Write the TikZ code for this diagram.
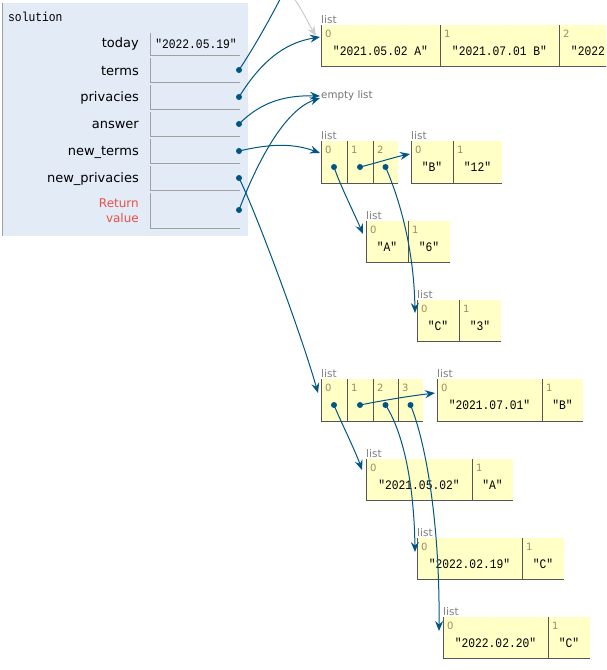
\documentclass[tikz,border=0pt]{standalone}
\usepackage{fontspec}
\setmainfont{DejaVu Sans}
\newfontfamily\monof[FakeStretch=0.87]{Liberation Mono}
\usetikzlibrary{arrows.meta}
\definecolor{framebg}{HTML}{E2EBF6}
\definecolor{heapbg}{HTML}{FFFFC6}
\definecolor{ptrc}{HTML}{005583}
\definecolor{cellln}{HTML}{555555}
\definecolor{varln}{HTML}{A0A0A0}
\definecolor{idxc}{HTML}{9C8A6A}
\definecolor{typec}{HTML}{808080}
\definecolor{retc}{HTML}{E8504A}
\tikzset{
 cellbox/.style={fill=heapbg, draw=none, inner sep=0pt, outer sep=0pt, rectangle},
 cellline/.style={draw=cellln, line width=0.9pt},
 idx/.style={font=\fontsize{10}{10}\selectfont, text=idxc, inner sep=0pt, anchor=west},
 val/.style={font=\monof\fontsize{13}{13}\selectfont, inner sep=0pt},
 typel/.style={font=\fontsize{10.5}{10}\selectfont, text=typec, inner sep=0pt, anchor=south west},
 dotn/.style={circle, fill=ptrc, inner sep=0pt, minimum size=6pt},
 ptrarrow/.style={draw=ptrc, line width=1pt, -{Stealth[length=10pt,width=8pt,inset=3.5pt]}},
 grayarrow/.style={draw=black!20, line width=1pt, -{Stealth[length=10pt,width=8pt,inset=3.5pt]}},
 varlbl/.style={font=\fontsize{13}{13}\selectfont, anchor=east, inner sep=0pt},
 varline/.style={draw=varln, line width=0.9pt},
 varbox/.style={draw=none, inner sep=0pt, outer sep=0pt, minimum width=90pt, anchor=north west},
}
\newcommand\lcell[7]{%
 \node[cellbox, minimum width=#4pt, minimum height=#5pt, anchor=north west] (#1) at (#2,#3) {};
 \draw[cellline] (#1.north west) -- (#1.south west) -- (#1.south east);
 \node[idx] (#1i) at ([xshift=4pt,yshift=-9pt]#1.north west) {#6};
 \node[val] (#1v) at ([yshift=-5pt]#1.center) {#7};
}
\newcommand\pcell[6]{%
 \node[cellbox, minimum width=#4pt, minimum height=#5pt, anchor=north west] (#1) at (#2,#3) {};
 \draw[cellline] (#1.north west) -- (#1.south west) -- (#1.south east);
 \node[idx] (#1i) at ([xshift=4pt,yshift=-9pt]#1.north west) {#6};
 \node[dotn] (#1d) at ([yshift=-5pt]#1.center) {};
}
\newcommand\vrow[5]{% name label ytop height labely
 \node[varbox, minimum height=#4pt] (#1) at (150,#3) {};
 \draw[varline] (#1.north west) -- (#1.south west) -- (#1.south east);
 \node[varlbl] (#1l) at (139,#5) {#2};
}
\begin{document}
\begin{tikzpicture}[x=1pt,y=-1pt]
\path[use as bounding box, clip] (0,0) rectangle (606,670);
\fill[white] (0,0) rectangle (606,670);
% frame
\fill[framebg] (3,3) rectangle (248,236);
\draw[varln, line width=1pt] (2.5,3) -- (2.5,236);
\node[font=\monof\fontsize{13}{13}\selectfont, anchor=west, inner sep=0pt] (fname) at (8,17) {solution};
\vrow{vtoday}{today}{33}{22}{44}
\node[val] (vtodayv) at (196,44) {"2022.05.19"};
\vrow{vterms}{terms}{58}{24}{71}
\vrow{vpriv}{privacies}{85}{24}{98}
\vrow{vans}{answer}{112}{24}{125}
\vrow{vnt}{new\_terms}{139}{24}{152}
\vrow{vnp}{new\_privacies}{166}{24}{179}
\node[varbox, minimum height=35pt] (vret) at (150,193) {};
\draw[varline] (vret.north west) -- (vret.south west) -- (vret.south east);
\node[varlbl, text=retc, align=right, font=\fontsize{12}{15}\selectfont] (vretl) at (139,211) {Return\\value};
\node[dotn] (dterms) at (239,70) {};
\node[dotn] (dpriv) at (239,97) {};
\node[dotn] (dans) at (239,124) {};
\node[dotn] (dnt) at (239,151) {};
\node[dotn] (dnp) at (239,178) {};
\node[dotn] (dret) at (239,210) {};
% list A
\node[typel] (ta) at (321,24) {list};
\lcell{a0}{321}{25}{119}{41}{0}{"2021.05.02 A"}
\lcell{a1}{440}{25}{119}{41}{1}{"2021.07.01 B"}
\lcell{a2}{559}{25}{119}{41}{2}{"2022.02.19 C"}
% empty list
\node[font=\fontsize{10.3}{10}\selectfont, text=black!55, anchor=west, inner sep=0pt] (empty) at (321,96) {empty list};
% list B
\node[typel] (tb) at (321,140) {list};
\pcell{b0}{321}{141}{26}{42}{0}
\pcell{b1}{347}{141}{26}{42}{1}
\pcell{b2}{373}{141}{25}{42}{2}
\node[typel] (tbb) at (411,140) {list};
\lcell{bb0}{411}{141}{42}{42}{0}{"B"}
\lcell{bb1}{453}{141}{49}{42}{1}{"12"}
\node[typel] (tba) at (366,220) {list};
\lcell{ba0}{366}{221}{42}{41}{0}{"A"}
\lcell{ba1}{408}{221}{42}{41}{1}{"6"}
\node[typel] (tbc) at (417,299) {list};
\lcell{bc0}{417}{300}{42}{41}{0}{"C"}
\lcell{bc1}{459}{300}{42}{41}{1}{"3"}
% list C
\node[typel] (tc) at (321,378) {list};
\pcell{c0}{321}{379}{26}{42}{0}
\pcell{c1}{347}{379}{26}{42}{1}
\pcell{c2}{373}{379}{25}{42}{2}
\pcell{c3}{398}{379}{25}{42}{3}
\node[typel] (tcb) at (437,378) {list};
\lcell{cb0}{437}{379}{105}{42}{0}{"2021.07.01"}
\lcell{cb1}{542}{379}{41}{42}{1}{"B"}
\node[typel] (tca) at (366,458) {list};
\lcell{ca0}{366}{459}{106}{41}{0}{"2021.05.02"}
\lcell{ca1}{472}{459}{41}{41}{1}{"A"}
\node[typel] (tcc) at (417,537) {list};
\lcell{cc0}{417}{538}{105}{41}{0}{"2022.02.19"}
\lcell{cc1}{522}{538}{42}{41}{1}{"C"}
\node[typel] (tcd) at (443,616) {list};
\lcell{cd0}{443}{617}{105}{41}{0}{"2022.02.20"}
\lcell{cd1}{548}{617}{42}{41}{1}{"C"}
% arrow endpoints
\coordinate (termsT) at (300,-40);
\coordinate (grayS) at (265,-30);
\coordinate (aTipG) at (316,36);
\coordinate (aTip) at (320,37);
\coordinate (eTip1) at (320,96);
\coordinate (eTip2) at (320,98);
\coordinate (bTip) at (320,153);
\coordinate (cTip) at (318,393);
\coordinate (baTip) at (363,234);
\coordinate (bbTip) at (410,154);
\coordinate (bcTip) at (415,313);
\coordinate (caTip) at (362,470);
\coordinate (cbTip) at (435,393);
\coordinate (ccTip) at (415,552);
\coordinate (cdTip) at (439,631);
% arrows
\draw[grayarrow] (grayS) .. controls (295,-10) and (305,18) .. (aTipG);
\draw[ptrarrow] (dterms.center) .. controls (262,35) and (280,0) .. (termsT);
\draw[ptrarrow] (dpriv.center) .. controls (265,55) and (290,42) .. (aTip);
\draw[ptrarrow] (dans.center) .. controls (258,105) and (280,95) .. (eTip1);
\draw[ptrarrow] (dret.center) .. controls (258,160) and (285,110) .. (eTip2);
\draw[ptrarrow] (dnt.center) .. controls (265,145) and (290,142) .. (bTip);
\draw[ptrarrow] (dnp.center) .. controls (255,210) and (300,330) .. (cTip);
\draw[ptrarrow] (b0d.center) .. controls (340,185) and (355,215) .. (baTip);
\draw[ptrarrow] (b1d.center) .. controls (380,162) and (395,157) .. (bbTip);
\draw[ptrarrow] (b2d.center) .. controls (400,200) and (414,250) .. (bcTip);
\draw[ptrarrow] (c0d.center) .. controls (340,420) and (355,450) .. (caTip);
\draw[ptrarrow] (c1d.center) .. controls (385,400) and (410,396) .. (cbTip);
\draw[ptrarrow] (c2d.center) .. controls (402,430) and (414,480) .. (ccTip);
\draw[ptrarrow] (c3d.center) .. controls (425,440) and (440,520) .. (cdTip);
\end{tikzpicture}
\end{document}
